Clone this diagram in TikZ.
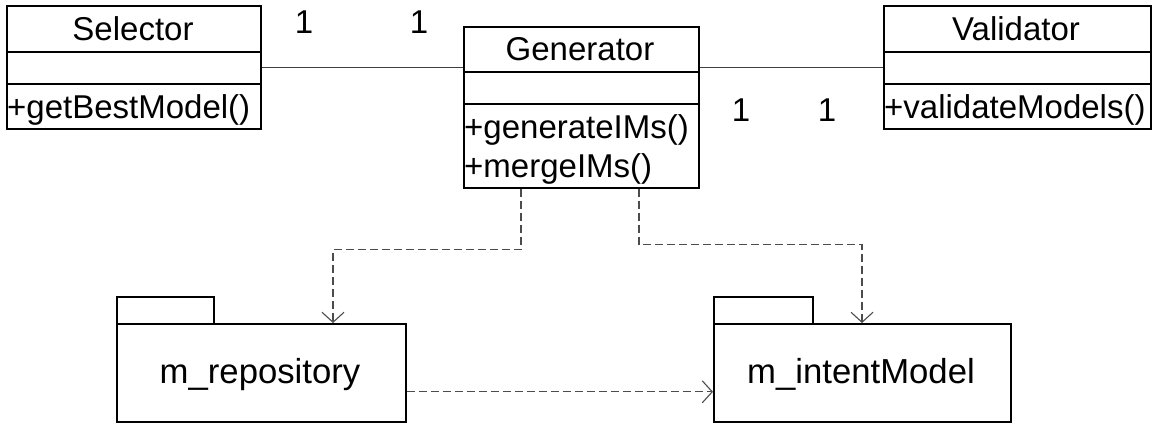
\documentclass[tikz,border=0pt]{standalone}
\usepackage{fontspec}
\setmainfont{Liberation Sans}
\usetikzlibrary{arrows.meta}
\begin{document}
\begin{tikzpicture}[x=1pt,y=-1pt,
 box/.style={draw=black, line width=1.6pt, inner sep=0pt, anchor=north west},
 txt/.style={inner sep=0pt, font=\fontsize{33}{40}\selectfont},
 pkgtxt/.style={inner sep=0pt, font=\fontsize{34.7}{40}\selectfont},
 sep/.style={draw=black, line width=1.6pt},
 assoc/.style={draw=black!75, line width=1.1pt},
 dep/.style={draw=black!70, line width=1.1pt, dash pattern=on 8pt off 4pt, -{Straight Barb[length=10pt,width=22pt]}},
]
\useasboundingbox (0,0) rectangle (1155,423);
% classes
\node[box, minimum width=254pt, minimum height=123pt] (sel) at (6,5) {};
\node[box, minimum width=235pt, minimum height=161pt] (gen) at (463,26) {};
\node[box, minimum width=267pt, minimum height=123pt] (val) at (883,5) {};
\draw[sep] (sel.west |- 0,52) -- (sel.east |- 0,52);
\draw[sep] (sel.west |- 0,84) -- (sel.east |- 0,84);
\draw[sep] (gen.west |- 0,72) -- (gen.east |- 0,72);
\draw[sep] (gen.west |- 0,104) -- (gen.east |- 0,104);
\draw[sep] (val.west |- 0,52) -- (val.east |- 0,52);
\draw[sep] (val.west |- 0,84) -- (val.east |- 0,84);
\node[txt, anchor=base] (selname) at (133,40) {Selector};
\node[txt, anchor=base west] (selop) at (7,118) {+getBestModel()};
\node[txt, anchor=base] (genname) at (580,60) {Generator};
\node[txt, anchor=base west] (genop1) at (464,138) {+generateIMs()};
\node[txt, anchor=base west] (genop2) at (464,177) {+mergeIMs()};
\node[txt, anchor=base] (valname) at (1016,40) {Validator};
\node[txt, anchor=base west] (valop) at (884,118) {+validateModels()};
% packages
\node[box, minimum width=97pt, minimum height=27pt] (repotab) at (116,296) {};
\node[box, minimum width=289pt, minimum height=98pt] (repo) at (116,323) {};
\node[box, minimum width=99pt, minimum height=27pt] (intenttab) at (713,296) {};
\node[box, minimum width=297pt, minimum height=98pt] (intent) at (713,323) {};
\node[pkgtxt, anchor=base] (reponame) at (260,383) {m\_repository};
\node[pkgtxt, anchor=base] (intentname) at (861,383) {m\_intentModel};
% multiplicities
\node[txt, anchor=base] (m1) at (304,33) {1};
\node[txt, anchor=base] (m2) at (419,33) {1};
\node[txt, anchor=base] (m3) at (741,121) {1};
\node[txt, anchor=base] (m4) at (827,121) {1};
% associations
\draw[assoc] (sel.east) -- (sel.east -| gen.west);
\draw[assoc] (val.west) -- (val.west -| gen.east);
% dependencies
\draw[dep] ([xshift=58pt]gen.south west) -- ++(0,61) -| ([xshift=217pt]repo.north west);
\draw[dep] ([xshift=176pt]gen.south west) -- ++(0,56) -| ([xshift=149pt]intent.north west);
\draw[dep] ([yshift=-19pt]repo.east) -- ([yshift=-19pt]repo.east -| intent.west);
\end{tikzpicture}
\end{document}
